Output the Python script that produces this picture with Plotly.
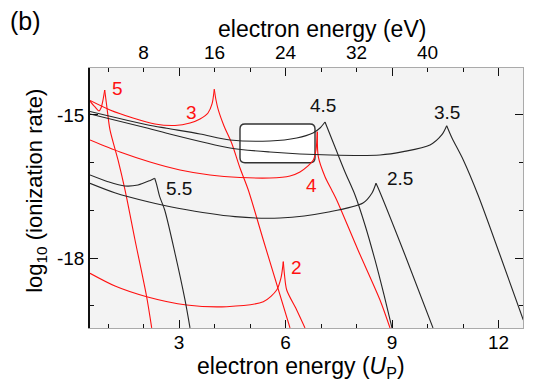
import plotly.graph_objects as go

# ---- data (electron energy in Up, log10 ionization rate) ----
# curve "5" (red)
x5_low = [0.493, 0.634, 0.746, 0.803, 0.859, 0.907]
y5_low = [-14.707, -14.832, -14.916, -14.853, -14.686, -14.476]
x5_fall = [0.907, 0.972, 1.056, 1.282, 1.479, 1.761, 2.090, 2.231]
y5_fall = [-14.476, -14.853, -15.314, -15.943, -16.572, -17.621, -18.816, -19.465]

# curve "3" (red)
x3_low = [0.493, 1.056, 1.704, 2.324, 2.887, 3.310, 3.592, 3.817, 3.930, 3.994]
y3_low = [-14.696, -14.895, -15.063, -15.189, -15.220, -15.168, -15.084, -14.958, -14.769, -14.461]
x3_fall = [3.994, 4.042, 4.107, 4.268, 4.485, 4.718, 4.952, 5.375, 6.127]
y3_fall = [-14.461, -14.686, -14.895, -15.231, -15.593, -16.111, -16.572, -17.621, -19.465]

# curve "4" (red)
x4_low = [0.493, 1.338, 2.183, 3.028, 3.873, 4.718, 5.563, 6.127, 6.408, 6.634, 6.783, 6.859, 6.896]
y4_low = [-15.524, -15.776, -15.985, -16.153, -16.258, -16.310, -16.321, -16.279, -16.195, -16.069, -15.943, -15.734, -15.350]
x4_fall = [6.896, 6.924, 7.113, 7.301, 7.442, 8.042, 8.662, 8.944]
y4_fall = [-15.350, -15.874, -16.294, -16.572, -16.782, -17.830, -18.878, -19.465]

# curve "2" (red)
x2_low = [0.493, 1.197, 2.090, 3.217, 4.344, 5.375, 5.752, 5.873, 5.938]
y2_low = [-18.319, -18.585, -18.809, -18.983, -19.019, -18.914, -18.669, -18.417, -18.075]
x2_fall = [5.938, 5.972, 6.034, 6.315, 6.549]
y2_fall = [-18.075, -18.354, -18.669, -19.088, -19.465]

# curve "4.5" (black)
x45_low = [0.493, 2.127, 2.654, 3.592, 4.437, 5.563, 6.315, 6.775, 6.972, 7.113]
y45_low = [-14.927, -15.210, -15.279, -15.398, -15.524, -15.545, -15.482, -15.377, -15.273, -15.147]
x45_fall = [7.113, 7.394, 7.676, 7.958, 8.239, 8.521, 8.775, 9.000]
y45_fall = [-15.147, -15.671, -16.195, -16.677, -17.306, -18.040, -18.774, -19.465]

# curve "3.5" (black)
x35_low = [0.493, 2.127, 2.654, 4.437, 5.563, 7.254, 8.662, 9.318, 10.070, 10.400, 10.541]
y35_low = [-14.979, -15.279, -15.384, -15.692, -15.776, -15.839, -15.839, -15.769, -15.629, -15.419, -15.224]
x35_fall = [10.541, 10.690, 11.008, 11.423, 12.042, 12.699]
y35_fall = [-15.224, -15.482, -15.943, -16.677, -17.935, -19.298]

# curve "2.5" (black)
x25_low = [0.493, 1.189, 2.127, 2.972, 4.577, 5.845, 7.254, 8.183, 8.437, 8.549]
y25_low = [-16.432, -16.629, -16.818, -16.956, -17.132, -17.159, -17.027, -16.845, -16.635, -16.432]
x25_fall = [8.549, 8.634, 9.366, 10.155]
y25_fall = [-16.432, -16.572, -17.935, -19.465]

# curve "5.5" (black)
x55_low = [0.493, 1.000, 1.470, 1.845, 2.175, 2.315]
y55_low = [-16.258, -16.398, -16.488, -16.468, -16.377, -16.327]
x55_fall = [2.315, 2.361, 2.456, 2.597, 2.887, 3.169, 3.310]
y55_fall = [-16.327, -16.432, -16.713, -16.992, -17.899, -18.878, -19.465]

# curve labels
label_text = ["5", "3", "4", "2", "4.5", "3.5", "2.5", "5.5"]
label_x = [1.261, 3.358, 6.738, 6.315, 7.056, 10.541, 9.225, 2.986]
label_y = [-14.44, -14.943, -16.488, -18.193, -14.811, -14.952, -16.327, -16.537]
label_red = [True, True, True, True, False, False, False, False]

# highlighted window
box_x = [4.718, 6.831]
box_y = [-16.0, -15.189]

# axes
x_range = [0.493, 12.69]
y_range = [-19.466, -14.015]
ev_per_up = 4.0
bottom_ticks = [3, 6, 9, 12]
top_ticks = [8, 16, 24, 32, 40]
left_ticks = [-15, -18]
left_ticktext = ["-15", "-18"]

RED = "#ff1010"
BLACK = "#262626"
FONT = "Liberation Sans, Arial, Helvetica, sans-serif"

fig = go.Figure()

curves = [
    (x5_low, y5_low, x5_fall, y5_fall, RED),
    (x3_low, y3_low, x3_fall, y3_fall, RED),
    (x4_low, y4_low, x4_fall, y4_fall, RED),
    (x2_low, y2_low, x2_fall, y2_fall, RED),
    (x45_low, y45_low, x45_fall, y45_fall, BLACK),
    (x35_low, y35_low, x35_fall, y35_fall, BLACK),
    (x25_low, y25_low, x25_fall, y25_fall, BLACK),
    (x55_low, y55_low, x55_fall, y55_fall, BLACK),
]
for xl, yl, xf, yf, col in curves:
    for xs, ys in ((xl, yl), (xf, yf)):
        fig.add_trace(go.Scatter(x=xs, y=ys, mode="lines",
                                 line=dict(color=col, width=1.1, shape="spline", smoothing=0.8),
                                 showlegend=False, hoverinfo="skip"))

# invisible trace so the top / right axes are drawn
fig.add_trace(go.Scatter(x=[x_range[0] * ev_per_up], y=[y_range[0]], xaxis="x2", yaxis="y2",
                         mode="markers", marker=dict(opacity=0), showlegend=False, hoverinfo="skip"))

# rounded rectangle
x0, x1 = box_x
y0, y1 = box_y
rx, ry = 0.14, 0.105
path = (f"M {x0+rx},{y1} L {x1-rx},{y1} Q {x1},{y1} {x1},{y1-ry} "
        f"L {x1},{y0+ry} Q {x1},{y0} {x1-rx},{y0} L {x0+rx},{y0} "
        f"Q {x0},{y0} {x0},{y0+ry} L {x0},{y1-ry} Q {x0},{y1} {x0+rx},{y1} Z")
fig.add_shape(type="path", path=path, xref="x", yref="y", layer="below",
              fillcolor="white", line=dict(color="#333333", width=1.4))

for t, lx, ly, red in zip(label_text, label_x, label_y, label_red):
    fig.add_annotation(x=lx, y=ly, text=t, showarrow=False, xref="x", yref="y",
                       xanchor="center", yanchor="middle",
                       font=dict(family=FONT, size=19, color=RED if red else "#111111"))

# titles
common = dict(xref="paper", yref="paper", showarrow=False, xanchor="center", yanchor="middle")
fig.add_annotation(text="electron energy (eV)", x=0.536, y=1.15,
                   font=dict(family=FONT, size=23, color="black"), **common)
fig.add_annotation(text="electron energy (<i>U</i><sub>P</sub>)", x=0.488, y=-0.15,
                   font=dict(family=FONT, size=23, color="black"), **common)
fig.add_annotation(text="log<sub>10</sub> (ionization rate)", x=-0.125, y=0.527, textangle=-90,
                   font=dict(family=FONT, size=22, color="black"), **common)
fig.add_annotation(text="(b)", x=-0.148, y=1.181,
                   font=dict(family=FONT, size=25, color="black"), **common)

tickfont = dict(family=FONT, size=19, color="black")
minor_ticks = dict(dtick=1, tick0=0, ticks="inside", ticklen=4, tickcolor="#111111", showgrid=False)
fig.update_layout(
    width=540, height=387,
    margin=dict(l=90, r=17, t=68, b=59, autoexpand=False),
    paper_bgcolor="white", plot_bgcolor="#f3f3f3",
    xaxis=dict(range=x_range, tickvals=bottom_ticks, ticks="inside", ticklen=8, tickwidth=1.3,
               tickcolor="#111111", showgrid=False, zeroline=False, showline=True,
               linecolor="#aaaaaa", linewidth=1.3, mirror="ticks", tickfont=tickfont,
               ticklabelstandoff=-3, minor=minor_ticks),
    xaxis2=dict(range=[x_range[0] * ev_per_up, x_range[1] * ev_per_up], overlaying="x", side="top",
                tickvals=top_ticks, ticks="", showgrid=False, zeroline=False, showline=False,
                tickfont=tickfont, ticklabelstandoff=4),
    yaxis=dict(range=y_range, tickvals=left_ticks, ticktext=left_ticktext, ticks="inside", ticklen=8,
               tickwidth=1.3, tickcolor="#111111", showgrid=False, zeroline=False, showline=True,
               linecolor="#111111", linewidth=1.6, tickfont=tickfont, minor=minor_ticks),
    yaxis2=dict(range=y_range, overlaying="y", side="right", tickvals=left_ticks, ticks="inside",
                ticklen=8, tickwidth=1.3, tickcolor="#111111", showticklabels=False,
                showgrid=False, zeroline=False, showline=True, linecolor="#aaaaaa", linewidth=1.3,
                minor=minor_ticks),
)

fig.write_html("out.html", config={"displayModeBar": False},
               post_script="document.body.style.margin='0';")
